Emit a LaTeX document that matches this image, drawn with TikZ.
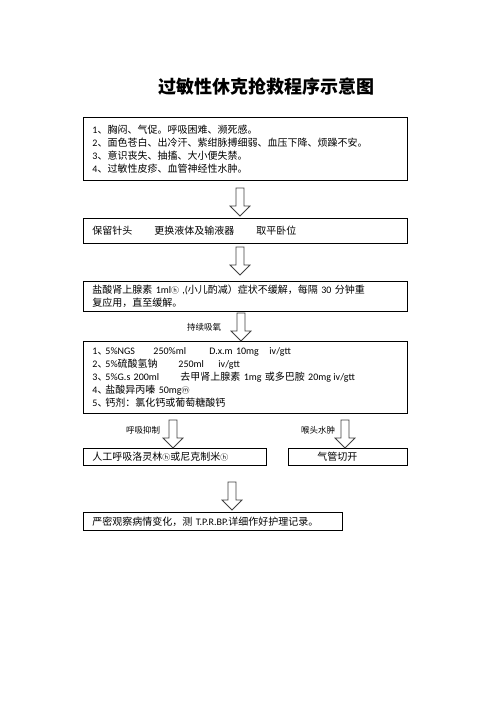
\documentclass[tikz,border=0pt]{standalone}
\usepackage{fontspec}
\setmainfont{Noto Sans CJK SC}
\newfontfamily\latinfont{Carlito}
\newfontfamily\symfont{Noto Sans CJK KR}
\newcommand{\en}[1]{{\latinfont #1}}
\newcommand{\circled}[1]{{\symfont\fontsize{8}{8}\selectfont #1}}
\tikzstyle{stepbox} = [rectangle, draw, line width=0.9pt, anchor=north west, inner xsep=9pt, inner ysep=0pt, align=left, font=\fontsize{10}{13}\selectfont]
\tikzstyle{note} = [draw=none, font=\fontsize{8.5}{8.5}\selectfont]
\tikzstyle{blockarrow} = [draw=black!75, line width=0.8pt, fill=white, line join=miter]
\newcommand{\hollowarrow}[1]{\draw[blockarrow] (#1) ++(-4,0) -- ++(0,18) -- ++(-6,0) -- ++(10,10) -- ++(10,-10) -- ++(-6,0) -- ++(0,-18) -- cycle;}

\begin{document}
\begin{tikzpicture}[x=1pt,y=-1pt]
  \useasboundingbox (0,0) rectangle (496,702);
  \node (title) at (266,87) {\fontsize{18}{18}\selectfont\bfseries 过敏性休克抢救程序示意图};

  \node[stepbox, text width=306pt, minimum height=63pt] (symptom) at (83,117) {%
    \en{1}、胸闷、气促。呼吸困难、濒死感。\\
    \en{2}、面色苍白、出冷汗、紫绀脉搏细弱、血压下降、烦躁不安。\\
    \en{3}、意识丧失、抽搐、大小便失禁。\\
    \en{4}、过敏性皮疹、血管神经性水肿。};
  \node[stepbox, text width=306pt, minimum height=25pt] (keep) at (83,218) {%
    保留针头\hspace{22pt}更换液体及输液器\hspace{22pt}取平卧位};
  \node[stepbox, text width=306pt, minimum height=30pt] (adrenaline) at (83,281) {%
    盐酸肾上腺素 \en{1ml}\circled{ⓗ}\en{ ,(}小儿酌减）症状不缓解，每隔 \en{30} 分钟重\\
    复应用，直至缓解。};
  \node[stepbox, text width=306pt, minimum height=72pt] (drugs) at (83,341) {%
    \makebox[13pt][l]{\en{1}、}\makebox[48pt][l]{\en{5\%NGS}}\makebox[56pt][l]{\en{250\%ml}}\makebox[60pt][l]{\en{D.x.m 10mg}}\en{iv/gtt}\\
    \makebox[13pt][l]{\en{2}、}\makebox[73pt][l]{\en{5\%}硫酸氢钠}\makebox[40pt][l]{\en{250ml}}\en{iv/gtt}\\
    \makebox[13pt][l]{\en{3}、}\makebox[75pt][l]{\en{5\%G.s 200ml}}\makebox[153pt][l]{去甲肾上腺素 \en{1mg} 或多巴胺 \en{20mg}}\en{iv/gtt}\\
    \makebox[13pt][l]{\en{4}、}盐酸异丙嗪 \en{50mg}\circled{ⓜ}\\
    \makebox[13pt][l]{\en{5}、}钙剂：氯化钙或葡萄糖酸钙};
  \node[stepbox, text width=165pt, minimum height=17pt] (breath) at (83,448) {%
    人工呼吸洛灵林\circled{ⓗ}或尼克制米\circled{ⓗ}};
  \node[stepbox, inner xsep=29pt, text width=61pt, minimum height=17pt] (trachea) at (288,448) {气管切开};
  \node[stepbox, text width=241pt, minimum height=18pt] (observe) at (83,512) {%
    严密观察病情变化，测 \en{T.P.R.BP.}详细作好护理记录。};

  \coordinate (a1) at (240,188);
  \coordinate (a2) at (240,247);
  \coordinate (a3) at (241,313);
  \coordinate (a4) at (173,420);
  \coordinate (a5) at (345,420);
  \coordinate (a6) at (232,482);
  \hollowarrow{a1}
  \hollowarrow{a2}
  \hollowarrow{a3}
  \hollowarrow{a4}
  \hollowarrow{a5}
  \hollowarrow{a6}

  \node[note] (oxygen) at (204,327) {持续吸氧};
  \node[note] (depress) at (143,430) {呼吸抑制};
  \node[note] (edema) at (318,430) {喉头水肿};
\end{tikzpicture}
\end{document}
